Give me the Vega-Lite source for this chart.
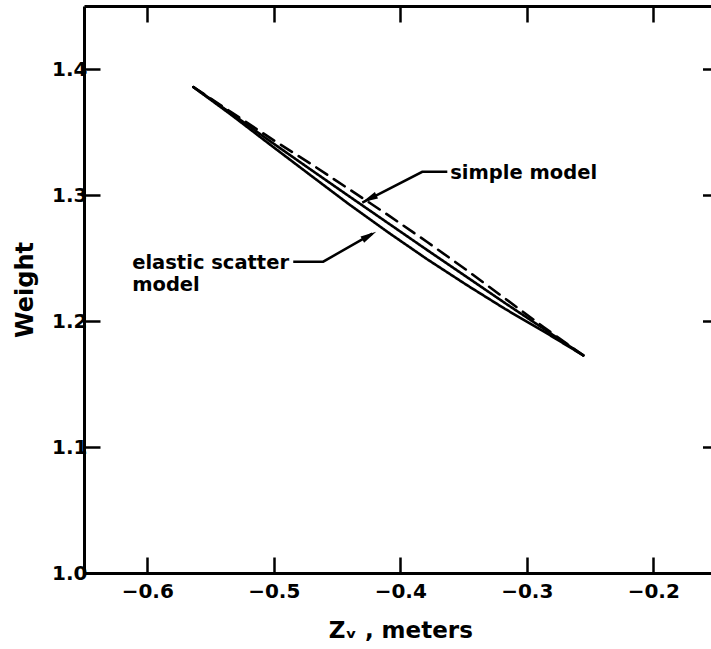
{
  "$schema": "https://vega.github.io/schema/vega-lite/v6.json",
  "autosize": {"type": "none"},
  "padding": {"left": 84, "top": 6, "right": 0, "bottom": 76},
  "width": 632.5,
  "height": 567,
  "background": "white",
  "config": {
    "view": {"stroke": null},
    "font": "DejaVu Sans",
    "axis": {
      "domainColor": "black", "domainWidth": 3,
      "tickColor": "black", "tickWidth": 2.5,
      "labelColor": "black", "labelFont": "DejaVu Sans", "labelFontWeight": "bold", "labelFontSize": 20,
      "titleColor": "black", "titleFont": "DejaVu Sans", "titleFontWeight": "bold", "titleFontSize": 21,
      "grid": false
    }
  },
  "datasets": {
    "curves": [
      {"series": "elastic lower", "i": 0, "z": -0.5636, "w": 1.3857},
      {"series": "elastic lower", "i": 1, "z": -0.5328, "w": 1.3630},
      {"series": "elastic lower", "i": 2, "z": -0.5020, "w": 1.3393},
      {"series": "elastic lower", "i": 3, "z": -0.4711, "w": 1.3158},
      {"series": "elastic lower", "i": 4, "z": -0.4403, "w": 1.2925},
      {"series": "elastic lower", "i": 5, "z": -0.4095, "w": 1.2703},
      {"series": "elastic lower", "i": 6, "z": -0.3787, "w": 1.2490},
      {"series": "elastic lower", "i": 7, "z": -0.3478, "w": 1.2288},
      {"series": "elastic lower", "i": 8, "z": -0.3170, "w": 1.2095},
      {"series": "elastic lower", "i": 9, "z": -0.2862, "w": 1.1915},
      {"series": "elastic lower", "i": 10, "z": -0.2553, "w": 1.1727},
      {"series": "elastic upper", "i": 0, "z": -0.5636, "w": 1.3857},
      {"series": "elastic upper", "i": 1, "z": -0.5328, "w": 1.3642},
      {"series": "elastic upper", "i": 2, "z": -0.5020, "w": 1.3421},
      {"series": "elastic upper", "i": 3, "z": -0.4711, "w": 1.3204},
      {"series": "elastic upper", "i": 4, "z": -0.4403, "w": 1.2989},
      {"series": "elastic upper", "i": 5, "z": -0.4095, "w": 1.2776},
      {"series": "elastic upper", "i": 6, "z": -0.3787, "w": 1.2563},
      {"series": "elastic upper", "i": 7, "z": -0.3478, "w": 1.2352},
      {"series": "elastic upper", "i": 8, "z": -0.3170, "w": 1.2141},
      {"series": "elastic upper", "i": 9, "z": -0.2862, "w": 1.1936},
      {"series": "elastic upper", "i": 10, "z": -0.2553, "w": 1.1727},
      {"series": "simple", "i": 0, "z": -0.5636, "w": 1.3857},
      {"series": "simple", "i": 1, "z": -0.5328, "w": 1.3652},
      {"series": "simple", "i": 2, "z": -0.5020, "w": 1.3447},
      {"series": "simple", "i": 3, "z": -0.4711, "w": 1.3250},
      {"series": "simple", "i": 4, "z": -0.4403, "w": 1.3045},
      {"series": "simple", "i": 5, "z": -0.4095, "w": 1.2840},
      {"series": "simple", "i": 6, "z": -0.3787, "w": 1.2627},
      {"series": "simple", "i": 7, "z": -0.3478, "w": 1.2406},
      {"series": "simple", "i": 8, "z": -0.3170, "w": 1.2177},
      {"series": "simple", "i": 9, "z": -0.2862, "w": 1.1948},
      {"series": "simple", "i": 10, "z": -0.2553, "w": 1.1727}
    ],
    "leaders": [
      {"leader": "simple", "i": 0, "z": -0.3628, "w": 1.3184},
      {"leader": "simple", "i": 1, "z": -0.3826, "w": 1.3184},
      {"leader": "simple", "i": 2, "z": -0.4300, "w": 1.2939},
      {"leader": "elastic", "i": 0, "z": -0.4846, "w": 1.2471},
      {"leader": "elastic", "i": 1, "z": -0.4609, "w": 1.2471},
      {"leader": "elastic", "i": 2, "z": -0.4221, "w": 1.2693}
    ],
    "arrowSimple": [{"z": -0.4245, "w": 1.2970}],
    "arrowElastic": [{"z": -0.4245, "w": 1.2677}],
    "labels": [
      {"text": "simple model", "z": -0.3605, "w": 1.3176},
      {"text": "elastic scatter", "z": -0.6119, "w": 1.2463},
      {"text": "model", "z": -0.6119, "w": 1.2289}
    ]
  },
  "resolve": {"axis": {"x": "independent", "y": "independent"}},
  "layer": [
    {
      "data": {"name": "curves"},
      "mark": {"type": "line", "color": "black", "strokeWidth": 2.6, "strokeCap": "round"},
      "encoding": {
        "x": {"field": "z", "type": "quantitative",
              "scale": {"domain": [-0.65, -0.15], "nice": false, "zero": false},
              "axis": {"orient": "bottom", "title": "Zᵥ ,  meters", "values": [-0.6, -0.5, -0.4, -0.3, -0.2],
                       "format": ".1f", "tickSize": -16, "labelPadding": 24, "titlePadding": 18, "titleFontSize": 23}},
        "y": {"field": "w", "type": "quantitative",
              "scale": {"domain": [1.0, 1.45], "nice": false, "zero": false},
              "axis": {"orient": "left", "title": "Weight", "values": [1.0, 1.1, 1.2, 1.3, 1.4],
                       "format": ".1f", "tickSize": -16, "labelPadding": 13, "titlePadding": 14, "titleFontSize": 24}},
        "detail": {"field": "series"},
        "strokeDash": {"field": "series", "type": "nominal",
                       "scale": {"domain": ["elastic lower", "elastic upper", "simple"], "range": [[1, 0], [1, 0], [13, 8]]},
                       "legend": null},
        "order": {"field": "i", "type": "quantitative"}
      }
    },
    {
      "data": {"name": "leaders"},
      "mark": {"type": "line", "color": "black", "strokeWidth": 2.5},
      "encoding": {
        "x": {"field": "z", "type": "quantitative",
              "scale": {"domain": [-0.65, -0.15], "nice": false, "zero": false},
              "axis": {"orient": "top", "title": null, "labels": false, "values": [-0.6, -0.5, -0.4, -0.3, -0.2],
                       "tickSize": -16}},
        "y": {"field": "w", "type": "quantitative",
              "scale": {"domain": [1.0, 1.45], "nice": false, "zero": false},
              "axis": {"orient": "right", "title": null, "labels": false, "domain": false, "values": [1.0, 1.1, 1.2, 1.3, 1.4],
                       "tickSize": -14}},
        "detail": {"field": "leader"},
        "order": {"field": "i", "type": "quantitative"}
      }
    },
    {
      "data": {"name": "arrowSimple"},
      "mark": {"type": "point", "shape": "M0,-1L0.45,1L-0.45,1Z", "filled": true, "color": "black", "opacity": 1, "size": 256, "angle": 244},
      "encoding": {
        "x": {"field": "z", "type": "quantitative", "axis": null},
        "y": {"field": "w", "type": "quantitative", "axis": null}
      }
    },
    {
      "data": {"name": "arrowElastic"},
      "mark": {"type": "point", "shape": "M0,-1L0.45,1L-0.45,1Z", "filled": true, "color": "black", "opacity": 1, "size": 256, "angle": 60},
      "encoding": {
        "x": {"field": "z", "type": "quantitative", "axis": null},
        "y": {"field": "w", "type": "quantitative", "axis": null}
      }
    },
    {
      "data": {"name": "labels"},
      "mark": {"type": "text", "align": "left", "baseline": "middle", "font": "DejaVu Sans", "fontWeight": "bold", "fontSize": 19.5, "color": "black"},
      "encoding": {
        "x": {"field": "z", "type": "quantitative", "axis": null},
        "y": {"field": "w", "type": "quantitative", "axis": null},
        "text": {"field": "text"}
      }
    }
  ]
}
